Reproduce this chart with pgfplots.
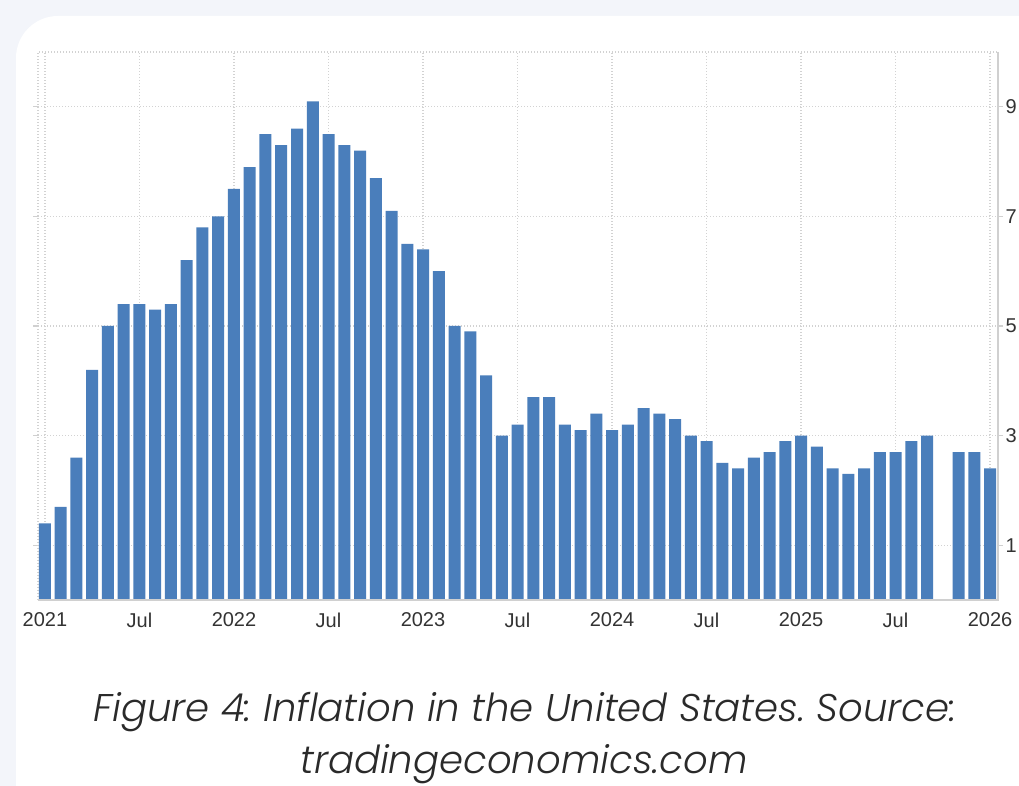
\documentclass[border=0pt]{standalone}
\usepackage{fontspec}
\setmainfont{Liberation Sans}
\IfFontExistsTF{Poppins Light Italic}{%
  \newfontfamily\capfont{Poppins Light Italic}}{%
  \newfontfamily\capfont{Poppins}[UprightFont=* Italic]}
\usepackage{pgfplots}
\pgfplotsset{compat=1.18}
\usepackage{pgfplotstable}
\definecolor{bgcol}{HTML}{F3F5FA}
\definecolor{barcol}{HTML}{4A7EBB}
\definecolor{gridcol}{HTML}{D2D2D2}
\definecolor{axcol}{HTML}{D0D0D0}
\definecolor{txtcol}{HTML}{333333}
\definecolor{capcol}{HTML}{2A2A2A}

% month index (0 = Jan 2021), CPI inflation (%)
\pgfplotstableread{
m v
0 1.4
1 1.7
2 2.6
3 4.2
4 5.0
5 5.4
6 5.4
7 5.3
8 5.4
9 6.2
10 6.8
11 7.0
12 7.5
13 7.9
14 8.5
15 8.3
16 8.6
17 9.1
18 8.5
19 8.3
20 8.2
21 7.7
22 7.1
23 6.5
24 6.4
25 6.0
26 5.0
27 4.9
28 4.1
29 3.0
30 3.2
31 3.7
32 3.7
33 3.2
34 3.1
35 3.4
36 3.1
37 3.2
38 3.5
39 3.4
40 3.3
41 3.0
42 2.9
43 2.5
44 2.4
45 2.6
46 2.7
47 2.9
48 3.0
49 2.8
50 2.4
51 2.3
52 2.4
53 2.7
54 2.7
55 2.9
56 3.0
58 2.7
59 2.7
60 2.4
}\cpidata

\begin{document}
\frenchspacing
\begin{tikzpicture}
\useasboundingbox (0pt,0pt) rectangle (1019pt,786pt);
\fill[bgcol] (0pt,0pt) rectangle (1019pt,786pt);
\fill[white, rounded corners=42pt] (16pt,-60pt) rectangle (1080pt,770pt);

\begin{axis}[
  scale only axis,
  width=960pt, height=548pt,
  at={(38pt,186pt)}, anchor=south west,
  xmin=-0.444, xmax=60.508,
  ymin=0, ymax=10,
  axis line style={draw=none},
  xtick={0,6,...,60},
  xticklabels={2021,Jul,2022,Jul,2023,Jul,2024,Jul,2025,Jul,2026},
  ytick={1,3,5,7,9},
  yticklabel pos=right,
  tick align=outside,
  major tick length=5pt,
  xtick style={draw=none},
  ytick style={draw=axcol, line width=1.2pt},
  grid=major,
  grid style={draw=gridcol, line width=1.2pt, dash pattern=on 1pt off 2pt},
  tick label style={font=\fontsize{20}{22}\selectfont, text=txtcol},
  xticklabel style={yshift=-4pt},
  yticklabel style={xshift=-1pt},
  /pgf/number format/assume math mode=true,
  clip=false,
]
\draw[gridcol, line width=1.2pt, dash pattern=on 1pt off 2pt]
  (rel axis cs:0,0) -- (rel axis cs:0,1) -- (rel axis cs:1,1);
\addplot[ybar, bar width=12pt, fill=barcol, draw=none] table[x=m, y=v] {\cpidata};
\draw[axcol, line width=1.2pt]
  (rel axis cs:1,1) -- (rel axis cs:1,0) -- (rel axis cs:0,0);
\end{axis}

\node[anchor=base, text=capcol, font=\capfont\fontsize{38.6}{42}\selectfont] at (525pt,64pt)
  {Figure 4: Inflation in the United States. Source:};
\node[anchor=base, text=capcol, font=\capfont\fontsize{38.6}{42}\selectfont] at (524pt,12pt)
  {tradingeconomics.com};
\end{tikzpicture}
\end{document}
